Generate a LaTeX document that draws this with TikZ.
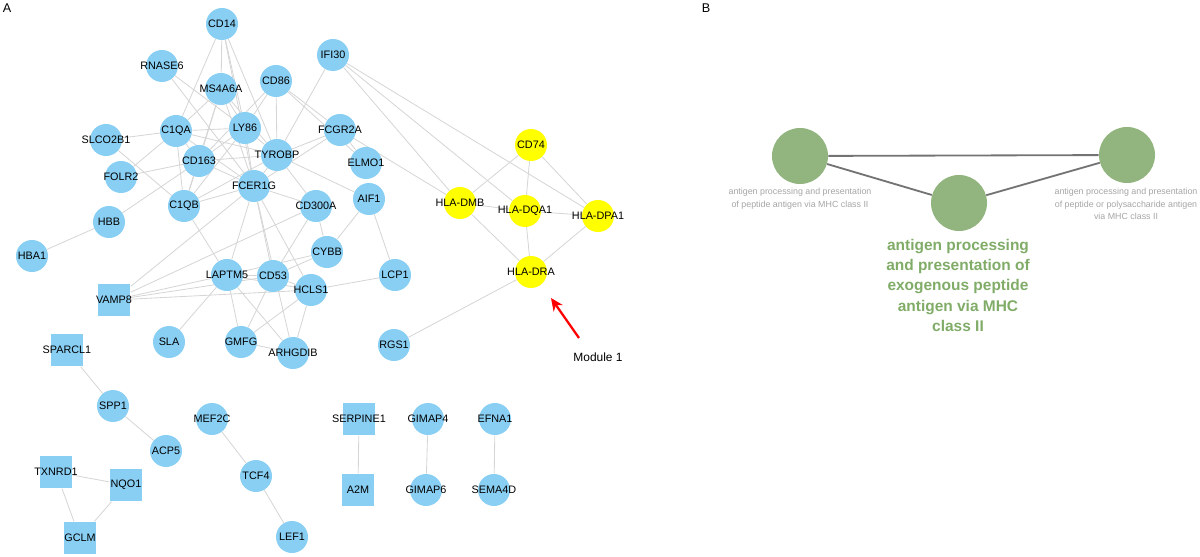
\documentclass[tikz,border=0pt]{standalone}
\usepackage{fontspec}
\setmainfont{Liberation Sans}
\usetikzlibrary{backgrounds,arrows.meta}

\definecolor{geneblue}{RGB}{137,207,244}
\definecolor{moduleyellow}{RGB}{255,255,0}
\definecolor{edgegray}{RGB}{214,214,214}
\definecolor{termgreen}{RGB}{146,180,126}
\definecolor{termtext}{RGB}{128,172,104}
\definecolor{termgray}{RGB}{165,165,165}

\tikzset{
    gene/.style={circle, fill=geneblue, minimum size=0.8cm, inner sep=0pt,
        label={[font=\fontsize{7.7}{8}\selectfont, inner sep=0pt]center:#1}},
    genesq/.style={rectangle, fill=geneblue, minimum size=0.82cm, inner sep=0pt,
        label={[font=\fontsize{7.7}{8}\selectfont, inner sep=0pt]center:#1}},
    hla/.style={gene=#1, fill=moduleyellow},
    ppi/.style={draw=edgegray, line width=0.6pt},
    term/.style={circle, fill=termgreen, minimum size=1.4cm, inner sep=0pt},
    termlink/.style={draw=black!55, line width=1.3pt},
    smalllabel/.style={align=center, text=termgray, font=\fontsize{6.3}{9}\selectfont},
}

\begin{document}
\begin{tikzpicture}[x=0.025cm, y=-0.025cm]

    \useasboundingbox (0,0) rectangle (1200,557);

    % Panel letters
    \node[font=\fontsize{9}{10}\selectfont] (panelA) at (7,8) {A};
    \node[font=\fontsize{9}{10}\selectfont] (panelB) at (706,8) {B};

    % Main network (panel A)
    \node[gene=CD14] (cd14) at (222,24) {};
    \node[gene=RNASE6] (rna) at (162,66) {};
    \node[gene=MS4A6A] (ms4) at (221,89) {};
    \node[gene=CD86] (cd86) at (276,81) {};
    \node[gene=IFI30] (ifi) at (333,55) {};
    \node[gene=C1QA] (c1qa) at (176,131) {};
    \node[gene=LY86] (ly86) at (245,128) {};
    \node[gene=SLCO2B1] (slc) at (106,140) {};
    \node[gene=TYROBP] (tyr) at (277,155) {};
    \node[gene=FCGR2A] (fcg) at (340,130) {};
    \node[gene=CD163] (cd163) at (199,161) {};
    \node[gene=FOLR2] (folr) at (121,177) {};
    \node[gene=FCER1G] (fce) at (254,186) {};
    \node[gene=ELMO1] (elmo) at (366,163) {};
    \node[gene=C1QB] (c1qb) at (184,206) {};
    \node[gene=HBB] (hbb) at (109,222) {};
    \node[gene=AIF1] (aif) at (369,199) {};
    \node[gene=CD300A] (cd300) at (316,206) {};
    \node[gene=CYBB] (cybb) at (327,252) {};
    \node[gene=HBA1] (hba) at (32,256) {};
    \node[gene=LAPTM5] (lap) at (227,275) {};
    \node[gene=CD53] (cd53) at (273,276) {};
    \node[gene=HCLS1] (hcls) at (311,290) {};
    \node[gene=LCP1] (lcp) at (395,275) {};
    \node[genesq=VAMP8] (vamp) at (114,300) {};
    \node[gene=SLA] (sla) at (169,342) {};
    \node[gene=GMFG] (gmfg) at (241,342) {};
    \node[gene=ARHGDIB] (arh) at (293,353) {};
    \node[gene=RGS1] (rgs) at (394,345) {};

    % Module 1 (yellow)
    \node[hla=CD74] (cd74) at (531,145) {};
    \node[hla=HLA-DMB] (dmb) at (460,203) {};
    \node[hla=HLA-DQA1] (dqa) at (525,211) {};
    \node[hla=HLA-DPA1] (dpa) at (598,216) {};
    \node[hla=HLA-DRA] (dra) at (531,272) {};

    % Small components
    \node[genesq=SPARCL1] (sparc) at (67,350) {};
    \node[gene=SPP1] (spp) at (113,406) {};
    \node[gene=ACP5] (acp) at (166,451) {};
    \node[gene=MEF2C] (mef) at (212,419) {};
    \node[gene=TCF4] (tcf) at (256,476) {};
    \node[gene=LEF1] (lef) at (292,537) {};
    \node[genesq=SERPINE1] (serp) at (359,419) {};
    \node[genesq=A2M] (atwom) at (358,490) {};
    \node[gene=GIMAP4] (gim4) at (428,419) {};
    \node[gene=GIMAP6] (gim6) at (426,490) {};
    \node[gene=EFNA1] (efna) at (495,419) {};
    \node[gene=SEMA4D] (sema) at (494,490) {};
    \node[genesq=TXNRD1] (txn) at (56,472) {};
    \node[genesq=NQO1] (nqo) at (126,485) {};
    \node[genesq=GCLM] (gclm) at (80,538) {};

    % Edges, behind the nodes
    \begin{scope}[on background layer]
        \foreach \a/\b in {cd14/c1qa, cd14/ms4, cd14/ly86, cd14/fce, cd14/tyr,
            rna/ly86, rna/fce,
            ms4/c1qa, ms4/cd163, ms4/c1qb, ms4/ly86, ms4/tyr, ms4/fce,
            cd86/ly86, cd86/cd163, cd86/tyr, cd86/fcg, cd86/elmo,
            ifi/tyr, ifi/dmb, ifi/dqa, ifi/dpa,
            c1qa/slc, c1qa/ly86, c1qa/cd163, c1qa/c1qb, c1qa/folr, c1qa/tyr, c1qa/fce,
            ly86/cd163, ly86/c1qb, ly86/tyr, ly86/fce,
            slc/c1qb,
            tyr/cd163, tyr/fce, tyr/fcg, tyr/cd300, tyr/aif, tyr/c1qb,
            fcg/dmb, fcg/elmo, fcg/fce,
            cd163/folr, cd163/c1qb, cd163/fce, cd163/hbb,
            fce/c1qb, fce/cd300, fce/lap, fce/cd53, fce/hcls, fce/arh, fce/vamp,
            c1qb/lap, hbb/hba,
            aif/cybb, aif/lcp,
            cd300/cybb, cd300/cd53, cd300/vamp,
            cybb/lap, cybb/cd53,
            lap/cd53, lap/hcls, lap/vamp, lap/sla, lap/gmfg, lap/arh,
            cd53/hcls, cd53/gmfg, cd53/vamp,
            hcls/lcp, hcls/arh, hcls/gmfg, hcls/vamp,
            gmfg/arh,
            dmb/cd74, dmb/dqa, dmb/dra, cd74/dqa, cd74/dpa,
            dqa/dpa, dqa/dra, dpa/dra, dra/rgs,
            sparc/spp, spp/acp, mef/tcf, tcf/lef, serp/atwom,
            gim4/gim6, efna/sema, txn/nqo, txn/gclm, nqo/gclm}
            \draw[ppi] (\a) -- (\b);
    \end{scope}

    % Red arrow pointing at Module 1
    \node[font=\fontsize{8.5}{10}\selectfont] (modlabel) at (598,357) {Module 1};
    \coordinate (arrowtail) at (579,338);
    \coordinate (arrowtip) at (551,298);
    \draw[red, line width=1.6pt, -{Stealth[length=9pt, width=8pt]}] (arrowtail) -- (arrowtip);

    % Panel B: enriched GO terms
    \node[term] (termA) at (800,156) {};
    \node[term] (termB) at (959,203) {};
    \node[term] (termC) at (1127,155) {};
    \begin{scope}[on background layer]
        \draw[termlink] (termA) -- (termC);
        \draw[termlink] (termA) -- (termB);
        \draw[termlink] (termB) -- (termC);
    \end{scope}
    \node[smalllabel, anchor=north] (labA) at (800,183)
        {antigen processing and presentation\\of peptide antigen via MHC class II};
    \node[smalllabel, anchor=north] (labC) at (1126,183)
        {antigen processing and presentation\\of peptide or polysaccharide antigen\\via MHC class II};
    \node[align=center, anchor=north, text=termtext, font=\bfseries\fontsize{11}{14.5}\selectfont] (labB) at (958,234)
        {antigen processing\\and presentation of\\exogenous peptide\\antigen via MHC\\class II};

\end{tikzpicture}
\end{document}
